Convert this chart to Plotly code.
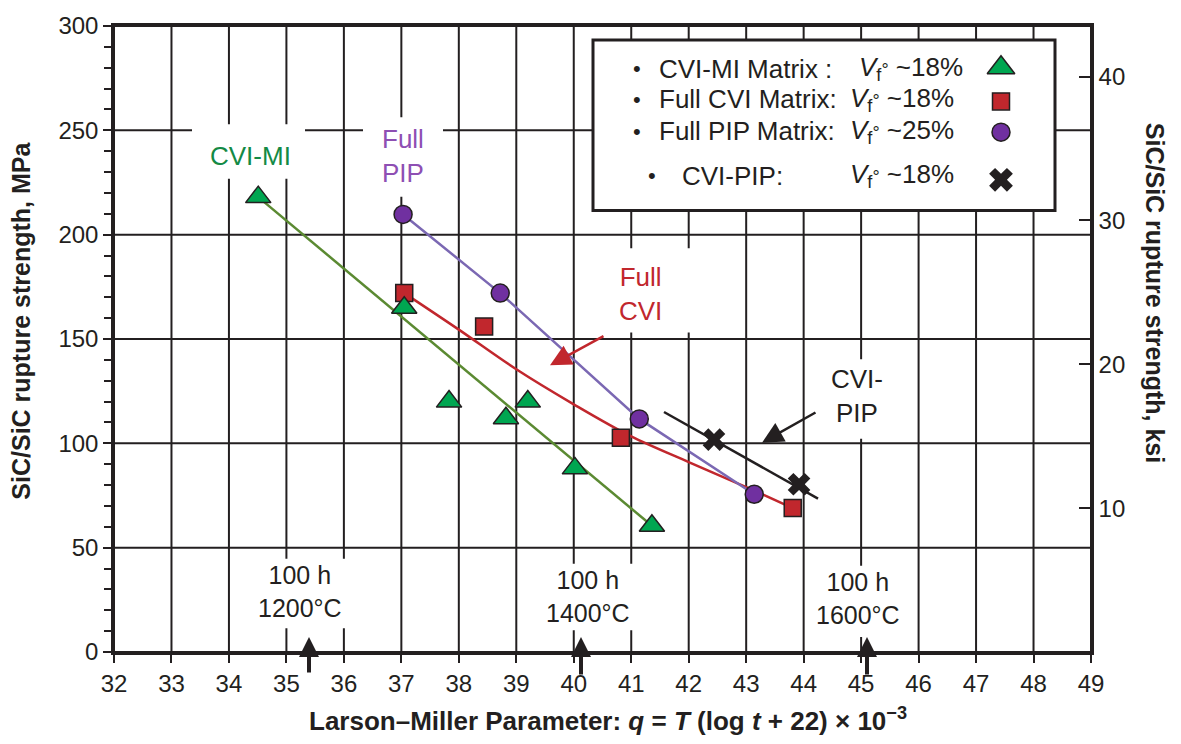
import plotly.graph_objects as go

# ---------------- data ----------------
cvimi_x = [34.51, 37.05, 37.83, 38.82, 39.20, 40.02, 41.36]
cvimi_y = [218, 165, 120, 112, 120, 88, 60.5]
cvimi_fit_x = [34.51, 41.36]
cvimi_fit_y = [218, 60.5]

cvi_x = [37.05, 38.44, 40.82, 43.81]
cvi_y = [172, 156, 102.7, 69]
cvi_fit_x = [37.05, 38, 39, 40, 41, 42, 43, 43.81]
cvi_fit_y = [172, 154.5, 135.5, 118.7, 103.3, 91, 79, 69]

pip_x = [37.03, 38.72, 41.14, 43.14]
pip_y = [209.7, 172, 111.7, 75.6]

cvipip_x = [42.44, 43.92]
cvipip_y = [101.8, 80.4]
cvipip_fit_x = [41.57, 44.25]
cvipip_fit_y = [115, 73.5]

x_ticks = list(range(32, 50))
mpa_ticks = [0, 50, 100, 150, 200, 250, 300]
ksi_ticks = [10, 20, 30, 40]
MPA_PER_KSI = 6.895

legend_names = ["CVI-MI Matrix :", "Full CVI Matrix:", "Full PIP Matrix:", "CVI-PIP:"]
legend_vf = ["~18%", "~18%", "~25%", "~18%"]

# ---------------- style ----------------
FONT = "Liberation Sans, Arial, Helvetica, sans-serif"
INK = "#231f20"
GREEN_FILL = "#00a651"
GREEN_LINE = "#5b8a32"
GREEN_TEXT = "#138a45"
RED = "#c1272d"
PURPLE_FILL = "#7030a0"
PURPLE_LINE = "#7b68b3"
PURPLE_TEXT = "#8e4fb3"

W, H = 1181, 744
L, R, T, B = 114, 90, 21, 92
PW, PH = W - L - R, H - T - B


def xp(px):
    return (px - L) / PW


def yp(py):
    return (H - B - py) / PH


X0, X1 = 32, 49
Y0, Y1 = 0, 300


def xd(px):
    return X0 + (px - L) / PW * (X1 - X0)


def yd(py):
    return Y0 + (H - B - py) / PH * (Y1 - Y0)


fig = go.Figure()

# fit lines
fig.add_trace(go.Scatter(x=cvimi_fit_x, y=cvimi_fit_y, mode="lines",
                         line=dict(color=GREEN_LINE, width=2.5), showlegend=False))
fig.add_trace(go.Scatter(x=cvi_fit_x, y=cvi_fit_y, mode="lines", line_shape="spline",
                         line=dict(color=RED, width=2.5), showlegend=False))
fig.add_trace(go.Scatter(x=pip_x, y=pip_y, mode="lines",
                         line=dict(color=PURPLE_LINE, width=2.5), showlegend=False))
fig.add_trace(go.Scatter(x=cvipip_fit_x, y=cvipip_fit_y, mode="lines",
                         line=dict(color=INK, width=2.5), showlegend=False))

# markers
fig.add_trace(go.Scatter(x=cvi_x, y=cvi_y, mode="markers",
                         marker=dict(symbol="square", size=17, color=RED,
                                     line=dict(color=INK, width=1.5)), showlegend=False))
fig.add_trace(go.Scatter(x=cvimi_x, y=cvimi_y, mode="markers",
                         marker=dict(symbol="triangle-up", size=22, color=GREEN_FILL,
                                     line=dict(color=INK, width=1.5)), showlegend=False))
fig.add_trace(go.Scatter(x=pip_x, y=pip_y, mode="markers",
                         marker=dict(symbol="circle", size=18, color=PURPLE_FILL,
                                     line=dict(color=INK, width=1.5)), showlegend=False))
fig.add_trace(go.Scatter(x=cvipip_x, y=cvipip_y, mode="markers",
                         marker=dict(symbol="x", size=20, color=INK,
                                     line=dict(color=INK, width=0)), showlegend=False))

# legend key markers (positions inside the legend box)
key_px = 1001
key_rows = [63, 97, 128, 176]
key_styles = [
    dict(symbol="triangle-up", size=24, color=GREEN_FILL, line=dict(color=INK, width=1.5)),
    dict(symbol="square", size=17, color=RED, line=dict(color=INK, width=1.5)),
    dict(symbol="circle", size=18, color=PURPLE_FILL, line=dict(color=INK, width=1.5)),
    dict(symbol="x", size=21, color=INK, line=dict(color=INK, width=0)),
]
for ry, st in zip(key_rows, key_styles):
    fig.add_trace(go.Scatter(x=[xd(key_px)], y=[yd(ry)], mode="markers",
                             marker=st, showlegend=False, hoverinfo="skip",
                             cliponaxis=False))

# invisible trace on ksi axis
fig.add_trace(go.Scatter(x=[X0], y=[0], yaxis="y2", mode="markers",
                         marker=dict(opacity=0), showlegend=False, hoverinfo="skip"))

shapes = []

# grid lines drawn as shapes (below traces) so that label boxes can break them
for v in x_ticks:
    shapes.append(dict(type="line", xref="x", yref="paper", x0=v, x1=v, y0=0, y1=1,
                       layer="below", line=dict(color=INK, width=2)))
for m in mpa_ticks:
    shapes.append(dict(type="line", xref="paper", yref="y", x0=0, x1=1, y0=m, y1=m,
                       layer="below", line=dict(color=INK, width=2)))


def white_box(x0, y0, x1, y1, line=None):
    d = dict(type="rect", xref="paper", yref="paper",
             x0=xp(x0), x1=xp(x1), y0=yp(y1), y1=yp(y0),
             fillcolor="white", layer="below",
             line=dict(width=0) if line is None else line)
    shapes.append(d)


# gaps in the grid behind labels
white_box(192, 120, 305, 175)
white_box(363, 113, 443, 193)
white_box(618, 245, 700, 330)
white_box(828, 357, 895, 437)
white_box(255, 558, 347, 628)
white_box(541, 563, 640, 630)
white_box(815, 565, 903, 637)
# legend box
white_box(593, 35, 1055, 207, line=dict(color=INK, width=3))

ann = []


def text(px, py, s, size=25, color=INK, xanchor="center", bold=False, angle=0):
    ann.append(dict(x=xp(px), y=yp(py), xref="paper", yref="paper", text=s,
                    showarrow=False, xanchor=xanchor, yanchor="middle",
                    textangle=angle,
                    font=dict(family=FONT, size=size, color=color,
                              weight="bold" if bold else "normal")))


def arrow(tip, tail, color, width, size):
    ann.append(dict(x=xp(tip[0]), y=yp(tip[1]), xref="paper", yref="paper", text="",
                    showarrow=True, ax=tail[0] - tip[0], ay=tail[1] - tip[1],
                    arrowcolor=color, arrowwidth=width, arrowhead=2,
                    arrowsize=size, standoff=0))


text(250, 152, "CVI-MI", 26, GREEN_TEXT)
text(403, 152, "Full<br>PIP", 26, PURPLE_TEXT)
text(640, 291, "Full<br>CVI", 26, RED)
text(857, 394, "CVI-<br>PIP", 26, INK)
text(300, 591, "100 h<br>1200°C", 25)
text(588, 596, "100 h<br>1400°C", 25)
text(858, 598, "100 h<br>1600°C", 25)

arrow((550, 363), (605, 333), RED, 2.5, 1.7)
arrow((762, 441), (817, 410), INK, 2.5, 1.7)
arrow((309, 637), (309, 674), INK, 4, 1.0)
arrow((581, 637), (581, 676), INK, 4, 1.0)
arrow((867, 637), (867, 676), INK, 4, 1.0)

# legend texts
bullet_x = [637, 637, 637, 652]
name_x = [657, 657, 657, 680]
vf_x = [857, 848, 848, 848]
text_rows = [64, 95, 127, 172]
for bx, nx, vx, ry, nm, vf in zip(bullet_x, name_x, vf_x, text_rows, legend_names, legend_vf):
    text(bx, ry, "•", 22, INK)
    text(nx, ry, nm, 26, INK, xanchor="left")
    text(vx, ry, "<i>V</i><sub>f</sub><span style='font-size:18px'>°</span> " + vf, 26, INK,
         xanchor="left")

# axis titles
text(21, 318, "SiC/SiC rupture strength, MPa", 25, INK, bold=True, angle=-90)
text(1155, 290, "SiC/SiC rupture strength, ksi", 25, INK, bold=True, angle=90)
text(608, 720, "Larson–Miller Parameter: <i>q</i> = <i>T</i> (log <i>t</i> + 22) × 10<sup>−3</sup>",
     26, INK, bold=True)

fig.update_layout(
    width=W, height=H,
    margin=dict(l=L, r=R, t=T, b=B, pad=0),
    plot_bgcolor="white", paper_bgcolor="white",
    font=dict(family=FONT, size=24, color=INK),
    shapes=shapes, annotations=ann,
    showlegend=False,
    xaxis=dict(range=[X0, X1], tickvals=x_ticks, ticktext=[str(v) for v in x_ticks],
               showgrid=False, zeroline=False,
               showline=True, linecolor=INK, linewidth=2.5, mirror=True,
               ticks="outside", ticklen=8, tickwidth=2, tickcolor=INK,
               tickfont=dict(size=24, color=INK, family=FONT)),
    yaxis=dict(range=[Y0, Y1], tickvals=mpa_ticks,
               showgrid=False, zeroline=False,
               showline=True, linecolor=INK, linewidth=2.5, mirror=True,
               ticks="outside", ticklen=8, tickwidth=2, tickcolor=INK,
               minor=dict(dtick=10, ticks="outside", ticklen=7, tickwidth=2,
                          tickcolor=INK, showgrid=False),
               tickfont=dict(size=24, color=INK, family=FONT)),
    yaxis2=dict(range=[Y0 / MPA_PER_KSI, Y1 / MPA_PER_KSI], overlaying="y", side="right",
                tickvals=ksi_ticks, showgrid=False, zeroline=False,
                showline=True, linecolor=INK, linewidth=2.5,
                ticks="inside", ticklen=12, tickwidth=2, tickcolor=INK,
                tickfont=dict(size=24, color=INK, family=FONT)),
)

fig.write_html("out.html")
